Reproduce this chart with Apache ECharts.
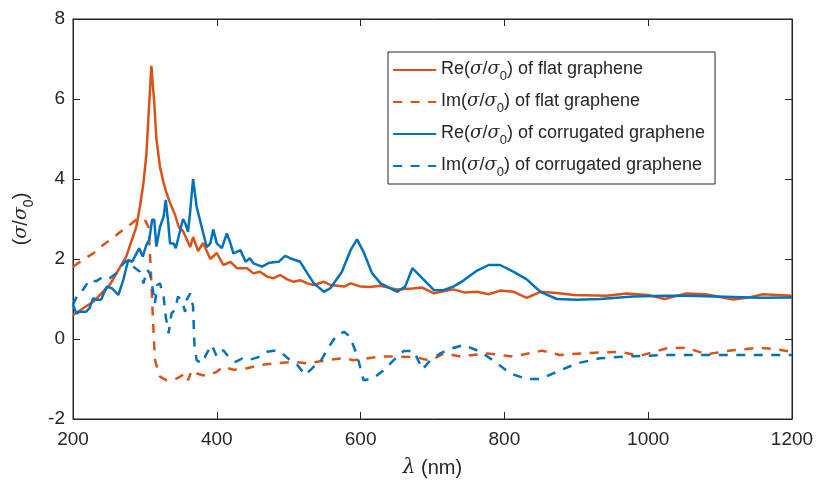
<!DOCTYPE html>
<html>
<head>
<meta charset="utf-8">
<script src="https://cdn.jsdelivr.net/npm/echarts@6/dist/echarts.min.js"></script>
<style>
  html, body { margin: 0; padding: 0; background: #fff; }
  #chart { width: 818px; height: 483px; }
</style>
</head>
<body>
<div id="chart"></div>
<script>
// Wavelength axis ticks and value axis ticks
const xTicks = [200, 400, 600, 800, 1000, 1200];
const yTicks = [-2, 0, 2, 4, 6, 8];

const seriesNames = [
  'Re(σ/σ0) of flat graphene',
  'Im(σ/σ0) of flat graphene',
  'Re(σ/σ0) of corrugated graphene',
  'Im(σ/σ0) of corrugated graphene'
];

// Re(σ/σ0), flat graphene
const flatReLambda = [200,228,251,274,288,293,298,302,306,309,313,316,321,326,331,335,342,347,353,363,367,374,381,391,400,409,419,428,442,451,460,470,479,488,498,507,516,526,535,549,558,577,586,600,613,627,650,672,685,702,729,745,762,778,794,813,831,850,873,896,942,970,1000,1023,1053,1080,1118,1140,1160,1200];
const flatReValue  = [0.60,0.93,1.35,2.06,2.80,3.30,3.90,4.60,5.90,6.83,5.90,5.00,4.30,3.90,3.60,3.40,3.10,2.80,2.70,2.30,2.55,2.20,2.40,2.00,2.15,1.85,1.93,1.77,1.77,1.64,1.68,1.56,1.52,1.60,1.49,1.43,1.47,1.39,1.35,1.43,1.35,1.31,1.39,1.31,1.30,1.33,1.24,1.26,1.29,1.14,1.24,1.16,1.18,1.12,1.21,1.18,1.03,1.18,1.15,1.10,1.08,1.14,1.10,1.00,1.14,1.12,0.99,1.04,1.12,1.08];

// Im(σ/σ0), flat graphene
const flatImLambda = [200,214,228,242,256,270,281,288,300,305,308,311,314,321,330,340,349,356,360,365,372,379,386,400,409,423,442,460,479,507,525,553,577,590,627,655,678,697,716,739,776,813,852,877,914,961,989,1026,1053,1081,1118,1155,1179,1200];
const flatImValue  = [1.81,1.98,2.14,2.35,2.54,2.73,2.88,2.98,2.98,2.80,1.81,0.56,-0.53,-0.94,-1.03,-1.03,-0.94,-0.86,-1.03,-0.78,-0.86,-0.90,-0.92,-0.82,-0.69,-0.77,-0.73,-0.65,-0.61,-0.57,-0.61,-0.53,-0.48,-0.53,-0.44,-0.44,-0.46,-0.54,-0.36,-0.44,-0.36,-0.44,-0.29,-0.40,-0.35,-0.32,-0.42,-0.23,-0.22,-0.38,-0.28,-0.22,-0.26,-0.32];

// Re(σ/σ0), corrugated graphene
const corrReLambda = [200,205,209,218,223,228,232,239,247,254,263,270,277,282,286,292,297,302,306,310,313,316,321,326,329,332,335,340,343,348,353,356,360,363,367,372,379,386,391,395,400,407,414,419,423,433,440,446,451,463,472,479,486,495,502,516,526,535,549,558,574,586,595,604,616,628,651,662,672,702,715,729,743,762,778,794,813,831,850,873,901,933,979,1025,1053,1095,1155,1200];
const corrReValue  = [0.85,0.64,0.68,0.68,0.77,1.02,0.98,0.98,1.31,1.27,1.10,1.48,1.98,1.93,2.06,2.27,2.06,2.35,2.47,2.98,2.98,2.31,2.80,3.06,3.48,2.98,2.39,2.39,2.27,2.64,3.00,2.90,2.68,3.20,4.00,3.30,2.80,2.30,2.39,2.74,2.39,2.27,2.64,2.39,2.14,2.22,1.93,2.02,1.89,1.81,1.90,1.92,1.93,2.08,2.02,1.93,1.64,1.39,1.18,1.27,1.68,2.22,2.49,2.18,1.64,1.39,1.18,1.31,1.77,1.22,1.22,1.31,1.46,1.71,1.85,1.85,1.68,1.49,1.18,1.00,0.98,1.00,1.06,1.08,1.08,1.06,1.03,1.04];

// Im(σ/σ0), corrugated graphene
const corrImLambda = [200,207,214,223,232,242,251,260,270,277,284,293,298,303,307,311,314,317,321,326,329,333,337,342,346,351,356,358,363,367,369,372,379,386,393,400,409,416,426,435,444,451,460,470,484,491,502,512,523,535,544,556,567,577,585,595,604,618,632,646,660,674,686,697,711,724,743,767,790,808,831,850,873,901,933,979,1025,1072,1118,1200];
const corrImValue  = [0.85,1.14,1.23,1.48,1.44,1.56,1.52,1.64,1.89,1.98,1.81,1.68,1.39,1.73,1.64,1.23,0.89,1.35,1.39,1.06,0.56,0.14,0.64,0.73,1.06,0.98,0.68,0.98,1.14,0.81,-0.19,-0.53,-0.61,-0.36,-0.15,-0.44,-0.28,-0.44,-0.57,-0.49,-0.53,-0.49,-0.44,-0.32,-0.28,-0.36,-0.53,-0.65,-0.90,-0.69,-0.57,-0.19,0.10,0.18,0.06,-0.40,-1.03,-0.98,-0.78,-0.53,-0.30,-0.30,-0.76,-0.53,-0.36,-0.25,-0.15,-0.32,-0.61,-0.86,-1.00,-1.00,-0.82,-0.61,-0.48,-0.43,-0.40,-0.40,-0.40,-0.40];

const ORANGE = '#D95319';
const BLUE = '#0072BD';
const TEXT = '#262626';
const FONT = 'Liberation Sans, Arial, sans-serif';
const SERIF = 'DejaVu Serif, serif';

const pairs = (xs, ys) => xs.map((x, i) => [x, ys[i]]);

// Render "σ/σ0" names with an italic sigma and a subscript zero
function richName(name) {
  const m = name.match(/^(Re|Im)\(σ\/σ0\)(.*)$/);
  if (!m) return name;
  return '{t|' + m[1] + '(}{i|σ}{t|/}{i|σ}{s|0}{t|)' + m[2] + '}';
}

const legendRich = {
  t: { fontSize: 18, color: TEXT, fontFamily: FONT, lineHeight: 24, verticalAlign: 'top', padding: [2, 0, 0, 0] },
  i: { fontSize: 18, color: TEXT, fontFamily: SERIF, fontStyle: 'italic', lineHeight: 24, verticalAlign: 'top', padding: [2, 0, 0, 0] },
  s: { fontSize: 13, color: TEXT, fontFamily: FONT, lineHeight: 24, verticalAlign: 'top', padding: [12, 0, 0, 0] }
};

function lineSeries(name, xs, ys, color, dashed) {
  return {
    name: name,
    type: 'line',
    data: pairs(xs, ys),
    symbol: 'none',
    smooth: false,
    color: color,
    lineStyle: { color: color, width: 2.5, type: dashed ? [9, 8.5] : 'solid' },
    emphasis: { disabled: true },
    z: 3
  };
}

const chart = echarts.init(document.getElementById('chart'), null, { renderer: 'canvas' });

const axisLabelStyle = { color: TEXT, fontSize: 19, fontFamily: FONT, formatter: v => String(v) };
const boxLine = { show: true, onZero: false, lineStyle: { color: '#262626', width: 1 } };
const boxTick = { show: true, inside: true, length: 7, lineStyle: { color: '#262626' } };

chart.setOption({
  backgroundColor: '#fff',
  animation: false,
  grid: {
    left: 73, right: 26, top: 19, bottom: 64,
    outerBoundsMode: 'none',
    containLabel: false,
    show: true, borderColor: '#262626', borderWidth: 1, backgroundColor: 'transparent'
  },
  legend: {
    data: seriesNames,
    orient: 'vertical',
    left: 388, top: 52,
    width: 327,
    padding: [6, 10, 5, 4],
    itemWidth: 43, itemHeight: 14, itemGap: 7,
    backgroundColor: '#fff',
    borderColor: '#262626', borderWidth: 1,
    itemStyle: { opacity: 0 },
    lineStyle: { width: 2.2 },
    formatter: richName,
    textStyle: { rich: legendRich },
    selectedMode: false
  },
  xAxis: [{
    type: 'value', min: xTicks[0], max: xTicks[xTicks.length - 1], interval: 200,
    position: 'bottom',
    name: '{i|λ}{t| (nm)}', nameLocation: 'middle', nameGap: 39,
    nameTextStyle: {
      rich: {
        t: { fontSize: 20, color: TEXT, fontFamily: FONT },
        i: { fontSize: 20, color: TEXT, fontFamily: SERIF, fontStyle: 'italic' }
      }
    },
    axisLine: boxLine,
    axisTick: boxTick,
    axisLabel: Object.assign({ margin: 11 }, axisLabelStyle),
    splitLine: { show: false }
  }, {
    type: 'value', min: xTicks[0], max: xTicks[xTicks.length - 1], interval: 200,
    position: 'top',
    axisLine: boxLine,
    axisTick: boxTick,
    axisLabel: { show: false },
    splitLine: { show: false }
  }],
  yAxis: [{
    type: 'value', min: yTicks[0], max: yTicks[yTicks.length - 1], interval: 2,
    position: 'left',
    name: '{t|(}{i|σ}{t|/}{i|σ}{s|0}{t|)}', nameLocation: 'middle', nameGap: 38,
    nameTextStyle: {
      rich: {
        t: { fontSize: 20, color: TEXT, fontFamily: FONT, lineHeight: 26, verticalAlign: 'top', padding: [2, 0, 0, 0] },
        i: { fontSize: 19, color: TEXT, fontFamily: SERIF, fontStyle: 'italic', lineHeight: 26, verticalAlign: 'top', padding: [3, 0, 0, 0] },
        s: { fontSize: 14, color: TEXT, fontFamily: FONT, lineHeight: 26, verticalAlign: 'top', padding: [13, 0, 0, 0] }
      }
    },
    axisLine: boxLine,
    axisTick: boxTick,
    axisLabel: Object.assign({ margin: 8 }, axisLabelStyle),
    splitLine: { show: false }
  }, {
    type: 'value', min: yTicks[0], max: yTicks[yTicks.length - 1], interval: 2,
    position: 'right',
    axisLine: boxLine,
    axisTick: boxTick,
    axisLabel: { show: false },
    splitLine: { show: false }
  }],
  series: [
    lineSeries(seriesNames[0], flatReLambda, flatReValue, ORANGE, false),
    lineSeries(seriesNames[1], flatImLambda, flatImValue, ORANGE, true),
    lineSeries(seriesNames[2], corrReLambda, corrReValue, BLUE, false),
    lineSeries(seriesNames[3], corrImLambda, corrImValue, BLUE, true)
  ]
});
</script>
</body>
</html>
